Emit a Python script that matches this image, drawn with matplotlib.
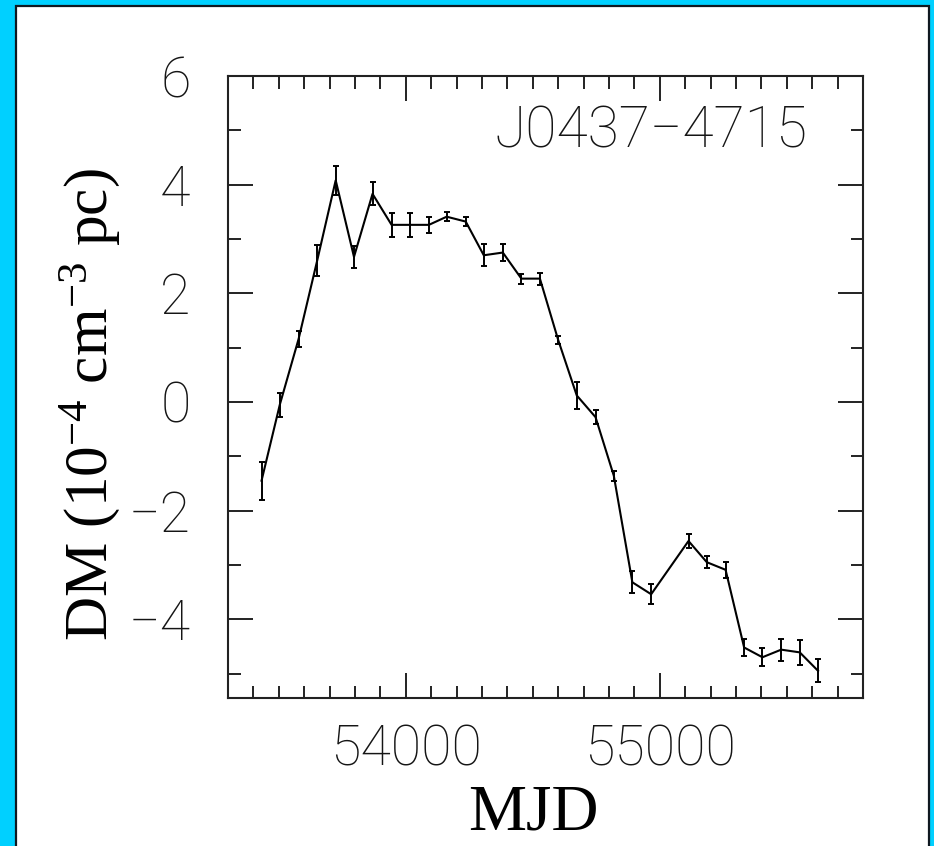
import numpy as np
import matplotlib
matplotlib.use('Agg')
import matplotlib.pyplot as plt
from matplotlib.patches import Rectangle
from matplotlib.ticker import MultipleLocator

# DM variation of J0437-4715
mjd = [53432, 53504, 53578, 53651, 53724, 53796, 53869, 53944, 54016, 54091,
       54161, 54236, 54307, 54382, 54455, 54528, 54600, 54673, 54747, 54819,
       54892, 54966, 55113, 55185, 55259, 55332, 55404, 55478, 55551, 55623]
dm = [-1.45, -0.05, 1.16, 2.60, 4.08, 2.67, 3.83, 3.26, 3.26, 3.26,
      3.41, 3.32, 2.70, 2.75, 2.27, 2.27, 1.14, 0.12, -0.28, -1.36,
      -3.32, -3.54, -2.56, -2.95, -3.09, -4.52, -4.70, -4.56, -4.61, -4.95]
dm_err = [0.35, 0.22, 0.14, 0.28, 0.27, 0.20, 0.21, 0.22, 0.22, 0.15,
          0.08, 0.08, 0.20, 0.15, 0.09, 0.11, 0.08, 0.25, 0.13, 0.09,
          0.20, 0.18, 0.12, 0.11, 0.15, 0.16, 0.17, 0.20, 0.23, 0.21]

W, H = 934, 846
fig = plt.figure(figsize=(W/100, H/100), dpi=100)
fig.patch.set_facecolor('#00d0ff')
# white slide panel with a dark edge
fig.patches.append(Rectangle((16/W, -0.05), (929-16)/W, 1.05 - 6/H,
                             transform=fig.transFigure, facecolor='white',
                             edgecolor='#101820', linewidth=1.6, zorder=-5))

sans = ['Roboto', 'DejaVu Sans']
serif = ['Liberation Serif', 'DejaVu Serif']
ink = '#151515'
plt.rcParams['mathtext.fontset'] = 'custom'
plt.rcParams['mathtext.rm'] = 'Liberation Serif'
plt.rcParams['mathtext.it'] = 'Liberation Serif:italic'

ax = fig.add_axes([228/W, 1-698/H, (863-228)/W, (698-76)/H])
ax.errorbar(mjd, dm, yerr=dm_err, color='black', lw=1.5, elinewidth=1.4,
            capsize=2.2, capthick=1.4)

ax.set_xlim(53300, 55800)
ax.set_ylim(-5.45, 6)
ax.xaxis.set_major_locator(MultipleLocator(1000))
ax.xaxis.set_minor_locator(MultipleLocator(100))
ax.yaxis.set_major_locator(MultipleLocator(2))
ax.yaxis.set_minor_locator(MultipleLocator(1))
ax.tick_params(which='both', direction='in', top=True, right=True, width=1.4,
               color='#222222')
ax.tick_params(which='major', length=18)
ax.tick_params(which='minor', length=9)
ax.tick_params(axis='x', pad=18)
ax.tick_params(axis='y', pad=27)
for s in ax.spines.values():
    s.set_linewidth(1.5)
    s.set_color('#222222')

ax.set_xticks([54000, 55000])
ax.set_xticklabels(['54000', '55000'])
ax.set_yticks([-4, -2, 0, 2, 4, 6])
ax.set_yticklabels(['\u22124', '\u22122', '0', '2', '4', '6'])
for lab in ax.get_xticklabels() + ax.get_yticklabels():
    lab.set_family(sans)
    lab.set_fontweight('light')
    lab.set_fontsize(40)
    lab.set_color(ink)

ax.text((808-228)/(863-228), 1-(132-76)/(698-76), 'J0437\u22124715',
        transform=ax.transAxes, ha='right', va='center', fontsize=41,
        family=sans, fontweight='light', color=ink)

fig.text(533/W, 1-829/H, 'MJD', ha='center', va='baseline', fontsize=47,
         family=serif)
fig.text(90/W, 1-405/H, 'DM (10$^{\\mathrm{-4}}$ cm$^{\\mathrm{-3}}$ pc)',
         rotation=90, ha='center', va='center', fontsize=44, family=serif)

fig.savefig('out.png', dpi=100, facecolor=fig.get_facecolor())
